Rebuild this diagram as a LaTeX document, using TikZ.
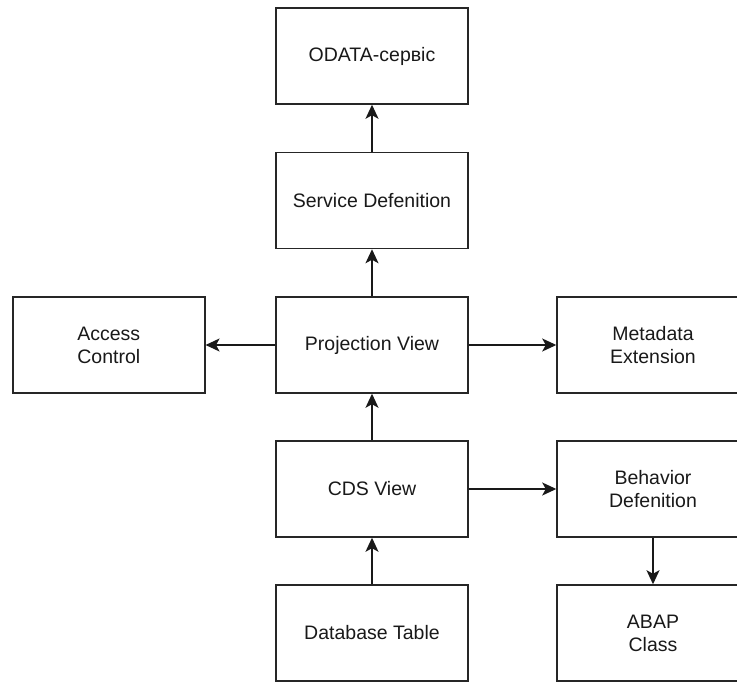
\documentclass[tikz,border=0pt]{standalone}
\usepackage{fontspec}
\setmainfont{Liberation Sans}
\usetikzlibrary{arrows.meta}

\tikzset{
  box/.style={draw=black!85, line width=1.5pt, minimum width=192pt, minimum height=96pt,
              inner sep=0pt, align=center, font=\fontsize{19.5}{23}\selectfont, text=black!90},
  flow/.style={draw=black!90, line width=1.5pt,
               -{Stealth[length=14pt,width=13pt,inset=3.5pt]}}
}

\begin{document}
\begin{tikzpicture}[x=1pt,y=-1pt]
  \useasboundingbox (0,0) rectangle (737,682);
  \clip (0,0) rectangle (737,682);
  \fill[white] (0,0) rectangle (737,682);

  % main column
  \node[box] (odata)   at (372,56)    {ODATA-сервіс};
  \node[box] (service) at (372,200.5) {Service Defenition};
  \node[box] (proj)    at (372,345)   {Projection View};
  \node[box] (cds)     at (372,489)   {CDS View};
  \node[box] (db)      at (372,633)   {Database Table};

  % side boxes
  \node[box] (access)  at (108.8,345) {Access\\Control};
  \node[box] (meta)    at (653,345)   {Metadata\\Extension};
  \node[box] (behav)   at (653,489)   {Behavior\\Defenition};
  \node[box] (abap)    at (653,633)   {ABAP\\Class};

  % connectors
  \draw[flow] (service) -- (odata);
  \draw[flow] (proj) -- (service);
  \draw[flow] (cds) -- (proj);
  \draw[flow] (db) -- (cds);
  \draw[flow] (proj) -- (access);
  \draw[flow] (proj) -- (meta);
  \draw[flow] (cds.east) -- (behav.west);
  \draw[flow] (behav.south) -- (abap.north);
\end{tikzpicture}
\end{document}
